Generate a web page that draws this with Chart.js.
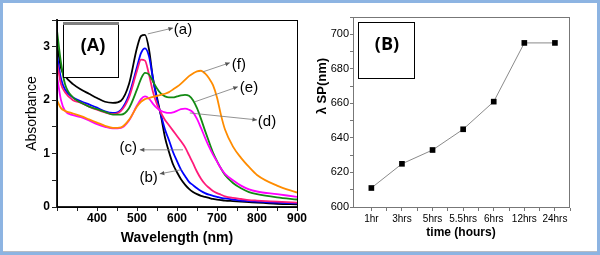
<!DOCTYPE html>
<html>
<head>
<meta charset="utf-8">
<script src="https://cdn.jsdelivr.net/npm/chart.js@4.4.1/dist/chart.umd.min.js"></script>
<style>
  html, body { margin: 0; padding: 0; }
  #frame { position: relative; width: 600px; height: 255px; background: #8db4e2; overflow: hidden; }
  #inner { position: absolute; left: 3px; top: 3px; width: 594px; height: 248px; background: #fff; border-bottom: 1px solid #b8bcc4; }
  #wrapA { position: absolute; left: 0; top: 0; width: 320px; height: 255px; }
  #wrapB { position: absolute; left: 300px; top: 0; width: 300px; height: 255px; }
</style>
</head>
<body>
<div id="frame">
  <div id="inner"></div>
  <div id="wrapA"><canvas id="chartA"></canvas></div>
  <div id="wrapB"><canvas id="chartB"></canvas></div>
</div>
<script>
// panel (A): absorbance spectra
const wavelengths = [300, 310, 320, 340, 360, 380, 400, 420, 440, 460, 480, 500, 510, 520, 530, 540,
  550, 560, 570, 580, 590, 600, 610, 620, 630, 640, 650, 660, 670, 680, 690, 700, 710, 720,
  740, 760, 780, 800, 850, 900];
const absA = [3.05, 2.6, 2.45, 2.3, 2.2, 2.12, 2.04, 1.97, 1.95, 1.99, 2.3, 2.98, 3.2, 3.22, 2.95, 2.4,
  2.05, 1.7, 1.3, 1.03, 0.8, 0.65, 0.52, 0.42, 0.34, 0.28, 0.24, 0.21, 0.19, 0.17, 0.15, 0.14, 0.13, 0.12,
  0.11, 0.1, 0.09, 0.08, 0.06, 0.05];
const absB = [2.85, 2.4, 2.2, 2.05, 1.98, 1.92, 1.86, 1.79, 1.76, 1.82, 2.1, 2.62, 2.88, 2.97, 2.82, 2.4,
  2.0, 1.72, 1.45, 1.25, 1.03, 0.86, 0.7, 0.58, 0.47, 0.41, 0.35, 0.3, 0.26, 0.23, 0.21, 0.19, 0.17, 0.16,
  0.14, 0.12, 0.11, 0.1, 0.08, 0.07];
const absC = [2.7, 2.3, 2.15, 2.0, 1.95, 1.88, 1.82, 1.77, 1.74, 1.8, 2.05, 2.55, 2.76, 2.74, 2.48, 2.15,
  1.92, 1.76, 1.63, 1.53, 1.43, 1.33, 1.23, 1.12, 0.97, 0.82, 0.66, 0.53, 0.43, 0.36, 0.3, 0.26, 0.23, 0.2,
  0.17, 0.15, 0.13, 0.12, 0.1, 0.08];
const absD = [2.45, 2.0, 1.8, 1.72, 1.68, 1.62, 1.55, 1.5, 1.47, 1.48, 1.62, 1.9, 2.02, 2.07, 2.03, 1.93,
  1.85, 1.8, 1.77, 1.76, 1.77, 1.8, 1.83, 1.84, 1.82, 1.77, 1.65, 1.48, 1.3, 1.13, 0.98, 0.85, 0.72, 0.62,
  0.5, 0.4, 0.33, 0.29, 0.24, 0.19];
const absE = [3.3, 2.7, 2.3, 2.05, 1.95, 1.88, 1.83, 1.78, 1.73, 1.73, 1.85, 2.2, 2.4, 2.51, 2.48, 2.35,
  2.22, 2.12, 2.07, 2.05, 2.05, 2.07, 2.09, 2.1, 2.08, 2.0, 1.85, 1.65, 1.43, 1.22, 1.02, 0.86, 0.72, 0.6,
  0.45, 0.35, 0.28, 0.24, 0.18, 0.14];
const absF = [2.0, 1.85, 1.8, 1.75, 1.7, 1.64, 1.58, 1.52, 1.48, 1.49, 1.63, 1.88, 1.97, 2.02, 2.04, 2.06,
  2.08, 2.1, 2.12, 2.15, 2.2, 2.25, 2.31, 2.38, 2.45, 2.5, 2.54, 2.55, 2.5, 2.41, 2.28, 2.05, 1.72, 1.45,
  1.13, 0.92, 0.75, 0.6, 0.4, 0.27];

// curve labels: arrow start (on curve), arrow tip, text anchor  [wavelength, absorbance]
const annLabels = ['(a)', '(b)', '(c)', '(d)', '(e)', '(f)'];
const annFrom = [[527, 3.24], [612, 0.70], [615, 1.07], [632, 1.76], [645, 1.97], [665, 2.53]];
const annTo = [[590, 3.35], [557, 0.62], [507, 1.07], [800, 1.63], [752, 2.25], [732, 2.70]];
const annText = [[592, 3.31], [552, 0.55], [500, 1.10], [802, 1.59], [757, 2.23], [737, 2.66]];
const annAlign = ['left', 'right', 'right', 'left', 'left', 'left'];

// panel (B): surface plasmon wavelength vs time
const timeLabels = ['1hr', '3hrs', '5hrs', '5.5hrs', '6hrs', '12hrs', '24hrs'];
const lambdaSP = [611, 625, 633, 645, 661, 695, 695];
const titleB = 'λ SP(nm)';
const titleBAt = 670;   // y value the rotated title is centred on

const SANS = "'Liberation Sans', Arial, sans-serif";

function toXY(ys) {
    return ys.map((y, i) => ({ x: wavelengths[i], y: y }));
}

function spectrum(label, ys, color) {
    return {
        label: label,
        data: toXY(ys),
        borderColor: color,
        borderWidth: 1.8,
        pointRadius: 0,
        tension: 0.4,
        cubicInterpolationMode: 'monotone',
        fill: false
    };
}

// frame around the plot area
const framePlugin = {
    id: 'frame',
    afterDatasetsDraw(chart, args, opts) {
        const { ctx, chartArea: a } = chart;
        ctx.save();
        ctx.strokeStyle = opts.color;
        ctx.lineWidth = 1;
        ctx.strokeRect(a.left + 0.5, a.top + 0.5, a.right - a.left, a.bottom - a.top);
        ctx.restore();
    }
};

// panel tag box, e.g. "(A)"
const tagPlugin = {
    id: 'tag',
    afterDatasetsDraw(chart, args, opts) {
        const { ctx, chartArea: a } = chart;
        const x = a.left + opts.dx, y = a.top + opts.dy;
        ctx.save();
        ctx.fillStyle = '#fff';
        ctx.fillRect(x, y, opts.w, opts.h);
        ctx.strokeStyle = '#000';
        ctx.lineWidth = 1;
        ctx.strokeRect(x + 0.5, y + 0.5, opts.w, opts.h);
        if (opts.topColor) {
            ctx.strokeStyle = opts.topColor;
            ctx.lineWidth = 3;
            ctx.beginPath();
            ctx.moveTo(x, y + 1.5);
            ctx.lineTo(x + opts.w + 1, y + 1.5);
            ctx.stroke();
        }
        ctx.fillStyle = '#000';
        ctx.font = 'bold 18px ' + opts.family;
        ctx.textAlign = 'center';
        ctx.textBaseline = 'middle';
        ctx.fillText(opts.text, x + opts.tx, y + opts.ty);
        ctx.restore();
    }
};

// arrows pointing from the curves to (a)...(f)
const arrowPlugin = {
    id: 'arrows',
    afterDatasetsDraw(chart) {
        const { ctx } = chart;
        const sx = chart.scales.x, sy = chart.scales.y;
        ctx.save();
        for (let i = 0; i < annLabels.length; i++) {
            const x0 = sx.getPixelForValue(annFrom[i][0]), y0 = sy.getPixelForValue(annFrom[i][1]);
            const x1 = sx.getPixelForValue(annTo[i][0]), y1 = sy.getPixelForValue(annTo[i][1]);
            ctx.strokeStyle = '#777';
            ctx.fillStyle = '#555';
            ctx.lineWidth = 0.8;
            ctx.beginPath();
            ctx.moveTo(x0, y0);
            ctx.lineTo(x1, y1);
            ctx.stroke();
            const ang = Math.atan2(y1 - y0, x1 - x0);
            ctx.beginPath();
            ctx.moveTo(x1, y1);
            ctx.lineTo(x1 - 5 * Math.cos(ang - 0.45), y1 - 5 * Math.sin(ang - 0.45));
            ctx.lineTo(x1 - 5 * Math.cos(ang + 0.45), y1 - 5 * Math.sin(ang + 0.45));
            ctx.closePath();
            ctx.fill();
            ctx.fillStyle = '#000';
            ctx.font = '15px ' + SANS;
            ctx.textAlign = annAlign[i];
            ctx.textBaseline = 'middle';
            ctx.fillText(annLabels[i], sx.getPixelForValue(annText[i][0]), sy.getPixelForValue(annText[i][1]));
        }
        ctx.restore();
    }
};

// rotated y title of panel (B), sits higher than centre in the original
const sideTitlePlugin = {
    id: 'sideTitle',
    afterDraw(chart) {
        const { ctx } = chart;
        const y = chart.scales.y.getPixelForValue(titleBAt);
        ctx.save();
        ctx.translate(22, y);
        ctx.rotate(-Math.PI / 2);
        ctx.fillStyle = '#000';
        ctx.font = 'bold 13px ' + SANS;
        ctx.textAlign = 'center';
        ctx.textBaseline = 'middle';
        ctx.fillText(titleB, 0, 0);
        ctx.restore();
    }
};

function drawSpectra() {
    const ctx = document.getElementById('chartA').getContext('2d');
    new Chart(ctx, {
        type: 'line',
        data: {
            datasets: [
                spectrum('(f)', absF, '#ff8c00'),
                spectrum('(d)', absD, '#ff00ff'),
                spectrum('(e)', absE, '#138a13'),
                spectrum('(c)', absC, '#ff1a7a'),
                spectrum('(b)', absB, '#0000ff'),
                spectrum('(a)', absA, '#000000')
            ]
        },
        options: {
            responsive: true,
            maintainAspectRatio: false,
            animation: false,
            layout: { padding: { left: 0, top: 20, right: 23, bottom: 0 } },
            plugins: {
                legend: { display: false },
                tooltip: { enabled: false },
                frame: { color: '#000' },
                tag: { dx: 6, dy: 2, w: 55, h: 55, tx: 30, ty: 24, text: '(A)', topColor: '#808080', family: SANS }
            },
            scales: {
                x: {
                    type: 'linear',
                    min: 300,
                    max: 900,
                    afterFit(scale) { scale.height = 48; },
                    border: { color: '#222', width: 2 },
                    grid: { drawOnChartArea: false, tickLength: 4, color: '#222' },
                    ticks: {
                        stepSize: 50,
                        padding: 0,
                        maxRotation: 0,
                        autoSkip: false,
                        color: '#000',
                        font: { family: SANS, size: 12, weight: 'bold' },
                        callback: v => (v % 100 === 0 && v > 300) ? v : ''
                    },
                    title: {
                        display: true,
                        text: 'Wavelength (nm)',
                        color: '#000',
                        font: { family: SANS, size: 14, weight: 'bold' },
                        padding: { top: 0, bottom: 8 }
                    }
                },
                y: {
                    min: 0,
                    max: 3.5,
                    afterFit(scale) { scale.width = 57; },
                    border: { color: '#222', width: 2 },
                    grid: { drawOnChartArea: false, tickLength: 5, color: '#222' },
                    ticks: {
                        stepSize: 0.5,
                        padding: 2,
                        autoSkip: false,
                        color: '#000',
                        font: { family: SANS, size: 12, weight: 'bold' },
                        callback: v => (v % 1 === 0) ? v : ''
                    },
                    title: {
                        display: true,
                        text: 'Absorbance',
                        color: '#000',
                        font: { family: SANS, size: 14 },
                        padding: { top: 24, bottom: 0 }
                    }
                }
            }
        },
        plugins: [framePlugin, arrowPlugin, tagPlugin]
    });
}

function drawShift() {
    const ctx = document.getElementById('chartB').getContext('2d');
    new Chart(ctx, {
        type: 'line',
        data: {
            datasets: [{
                label: titleB,
                data: lambdaSP.map((v, i) => ({ x: i + 1, y: v })),
                borderColor: '#8a8a8a',
                borderWidth: 1,
                pointStyle: 'rect',
                pointRadius: 4,
                pointBackgroundColor: '#000',
                pointBorderColor: '#000',
                pointBorderWidth: 0,
                tension: 0,
                fill: false
            }]
        },
        options: {
            responsive: true,
            maintainAspectRatio: false,
            animation: false,
            layout: { padding: { left: 0, top: 17, right: 31, bottom: 0 } },
            plugins: {
                legend: { display: false },
                tooltip: { enabled: false },
                frame: { color: '#777' },
                tag: { dx: 5, dy: 5, w: 56, h: 56, tx: 29, ty: 23, text: '(B)', family: "'Open Sans', " + SANS }
            },
            scales: {
                x: {
                    type: 'linear',
                    min: 0.4,
                    max: 7.46,
                    afterFit(scale) { scale.height = 48; },
                    afterBuildTicks(scale) {
                        const t = [];
                        for (let v = 1; v <= 7.5; v += 0.5) t.push({ value: v });
                        scale.ticks = t;
                    },
                    border: { color: '#777', width: 1 },
                    grid: { drawOnChartArea: false, tickLength: 4, color: '#777' },
                    ticks: {
                        padding: 2,
                        maxRotation: 0,
                        autoSkip: false,
                        color: '#000',
                        font: { family: SANS, size: 10 },
                        callback: v => Number.isInteger(v) ? timeLabels[v - 1] : ''
                    },
                    title: {
                        display: true,
                        text: 'time (hours)',
                        color: '#000',
                        font: { family: SANS, size: 12, weight: 'bold' },
                        padding: { top: 0, bottom: 15 }
                    }
                },
                y: {
                    min: 600,
                    max: 710,
                    afterFit(scale) { scale.width = 53; },
                    border: { color: '#777', width: 1 },
                    grid: { drawOnChartArea: false, tickLength: 3, color: '#777' },
                    ticks: {
                        stepSize: 10,
                        padding: 1,
                        autoSkip: false,
                        color: '#000',
                        font: { family: SANS, size: 11 },
                        callback: v => (v % 20 === 0) ? v : ''
                    },
                    title: { display: false }
                }
            }
        },
        plugins: [framePlugin, tagPlugin, sideTitlePlugin]
    });
}

drawSpectra();
drawShift();
</script>
</body>
</html>
